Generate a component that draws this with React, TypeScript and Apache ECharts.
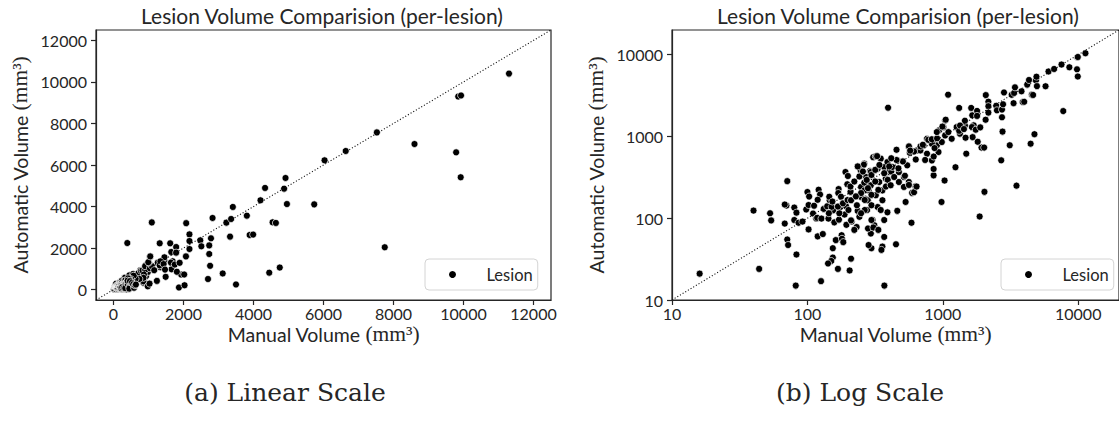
import React, { useEffect, useRef } from "react";
import * as echarts from "echarts";

const CHART_TITLE = "Lesion Volume Comparision (per-lesion)";
const CAPTIONS = ["(a) Linear Scale", "(b) Log Scale"];
const SERIES_NAME = "Lesion";
const LINEAR_TICKS = [0, 2000, 4000, 6000, 8000, 10000, 12000];
const LOG_TICKS = [10, 100, 1000, 10000];
const LINEAR_RANGE = [-500, 12500];
const LOG_RANGE = [10, 20000];

// [manual volume, automatic volume] in mm^3
const tinyLesions: [number, number][] = [
  [16, 21], [40, 124], [44, 24], [53, 115], [54, 94], [68, 86], [71, 284], [70, 143], [68, 147],
  [71, 55], [72, 47], [80, 135], [83, 117], [83, 36], [82, 15], [80, 95], [86, 88], [92, 91], [98, 128],
];

const smallLesions: [number, number][] = [
  [100, 209], [103, 184], [102, 145], [102, 73], [110, 114], [112, 142], [116, 99], [119, 60], [121, 223],
  [124, 195], [119, 168], [118, 101], [126, 17], [130, 64], [127, 99], [132, 130], [140, 140], [146, 166],
  [145, 183], [155, 125], [158, 89], [171, 96], [170, 227], [169, 203], [177, 183], [175, 137], [162, 54],
  [154, 43], [154, 33], [150, 30], [142, 28], [168, 24], [205, 23], [210, 32], [179, 62], [180, 56],
  [184, 51], [188, 111], [193, 140], [191, 367], [199, 328], [197, 260], [143, 99], [151, 138], [144, 115],
  [172, 115], [168, 139], [153, 160], [183, 152], [198, 167], [201, 126], [194, 83], [212, 91],
];

const mediumLesions: [number, number][] = [
  [208, 210], [210, 166], [210, 94], [235, 123], [231, 78], [242, 423], [263, 465], [249, 241], [263, 272],
  [276, 311], [290, 377], [283, 219], [268, 173], [276, 126], [297, 43], [283, 47], [306, 557], [294, 65],
  [358, 45], [369, 59], [330, 137], [303, 95], [312, 82], [358, 166], [390, 118], [320, 570], [348, 535],
  [261, 451], [247, 385], [271, 319], [294, 367], [330, 403], [369, 423], [401, 367], [379, 305], [339, 277],
  [294, 253], [264, 219], [249, 182], [279, 166], [320, 191], [358, 219], [390, 486], [352, 41], [370, 15],
  [394, 2243], [327, 574], [235, 430], [280, 75], [307, 77], [208, 244], [222, 281], [242, 324], [257, 372],
  [274, 294], [297, 338], [317, 390], [340, 448], [369, 355], [392, 294], [416, 372], [317, 281], [280, 233],
  [249, 203], [228, 185], [232, 144], [265, 167], [297, 193], [334, 222], [380, 244], [265, 126], [297, 144],
  [242, 104], [222, 72], [249, 115], [297, 95], [348, 126], [369, 95], [334, 72],
  [424, 423], [437, 319], [412, 253], [474, 277], [516, 241], [474, 367], [516, 319], [561, 277], [628, 245],
  [593, 204], [546, 443], [461, 509], [561, 741], [570, 630], [646, 675], [722, 777], [764, 615], [830, 509],
  [855, 334], [855, 400], [929, 644], [903, 777], [983, 853], [764, 936], [830, 813], [683, 675], [531, 158],
  [461, 123], [451, 48], [587, 88], [455, 687], [562, 755], [613, 655], [684, 755], [712, 790], [781, 908],
  [829, 924], [907, 949], [940, 1190], [869, 720], [856, 568], [740, 515], [631, 523], [574, 670], [507, 495],
  [455, 515], [416, 541], [402, 430], [470, 407], [525, 330], [562, 255], [613, 208], [640, 244], [903, 1130],
  [978, 158],
];

const largeLesions: [number, number][] = [
  [1030, 289], [1040, 1029], [1099, 1130], [1011, 1300], [1040, 1567], [1265, 1300], [1337, 1079],
  [1456, 1362], [1163, 936], [993, 1320], [1050, 1600], [1094, 3236], [1240, 420], [1320, 2230], [1490, 615],
  [1870, 105], [2030, 210], [1930, 730], [2020, 730], [2077, 3200], [2700, 510], [2760, 1145], [3120, 780],
  [3500, 250], [4450, 815], [4750, 1065], [7750, 2040], [1320, 1170], [1660, 980], [1810, 860], [1455, 1555],
  [1690, 1365], [1650, 1810], [1620, 2230], [1790, 2050], [1790, 1780], [2070, 1600], [2170, 2660],
  [2170, 2340], [2170, 1955], [2480, 2370], [2510, 2085], [2735, 1715], [2735, 2130], [2785, 2470],
  [2830, 3450], [3225, 3225], [3330, 2550], [3360, 3400], [3410, 3980], [3810, 3560], [3890, 2630],
  [3990, 2650], [4545, 3240], [4640, 3210], [4200, 4300], [4330, 4895], [4875, 4860], [4915, 5375],
  [4955, 4120], [5735, 4105], [6030, 6225], [6635, 6675], [7525, 7570], [8600, 7010], [9790, 6610],
  [9920, 5410], [9850, 9300], [9930, 9350], [11300, 10400], [1340, 1360], [1432, 1230], [1640, 1300],
  [1750, 1208], [1890, 1290], [1472, 964],
];

const lesions = [...tinyLesions, ...smallLesions, ...mediumLesions, ...largeLesions];

const SANS = "Lato";
const SERIF = "DejaVu Serif";
const MATH = "Liberation Serif";
const INK = "#262626";

function axisName(label: string) {
  return `{s|${label} }{m|(mm³)}`;
}

const nameStyle = {
  color: INK,
  fontFamily: SANS,
  fontSize: 19.5,
  lineHeight: 20,
  verticalAlign: "middle",
  rich: {
    s: { fontFamily: SANS, fontSize: 19.5, color: INK, lineHeight: 20 },
    m: { fontFamily: MATH, fontSize: 21.5, color: INK, lineHeight: 20 },
  },
};

function makeAxis(kind: "linear" | "log", dim: "x" | "y", gridIndex: number) {
  const isLog = kind === "log";
  const range = isLog ? LOG_RANGE : LINEAR_RANGE;
  const ticks = isLog ? LOG_TICKS : LINEAR_TICKS;
  return {
    type: isLog ? "log" : "value",
    logBase: 10,
    gridIndex,
    min: range[0],
    max: range[1],
    name: axisName(dim === "x" ? "Manual Volume" : "Automatic Volume"),
    nameLocation: "middle",
    nameGap: dim === "x" ? 34 : 76,
    nameMoveOverlap: false,
    nameTextStyle: nameStyle,
    axisLine: { show: true, onZero: false, lineStyle: { color: INK, width: 1.2 } },
    axisTick: {
      show: true,
      length: 5,
      lineStyle: { color: INK, width: 1.2 },
      customValues: ticks,
    },
    axisLabel: {
      color: INK,
      fontFamily: SANS,
      fontSize: 16,
      margin: dim === "x" ? 5 : 9,
      customValues: ticks,
      formatter: (v: number) => String(Math.round(v)),
    },
    splitLine: { show: false },
  };
}

function scatterSeries(i: number) {
  return {
    name: SERIES_NAME,
    type: "scatter",
    xAxisIndex: i,
    yAxisIndex: i,
    data: lesions,
    symbol: "circle",
    symbolSize: 7,
    itemStyle: { color: "#000", borderColor: "#fff", borderWidth: 0.7, opacity: 1 },
    z: 2,
  };
}

function diagonalSeries(i: number, range: number[]) {
  return {
    type: "line",
    xAxisIndex: i,
    yAxisIndex: i,
    data: [
      [range[0], range[0]],
      [range[1], range[1]],
    ],
    symbol: "none",
    silent: true,
    lineStyle: { color: "#111", width: 1.1, type: [1.1, 2] },
    z: 3,
  };
}

function legendAt(left: number) {
  return {
    left,
    top: 259,
    orient: "vertical",
    data: [{ name: SERIES_NAME, icon: "circle" }],
    itemWidth: 58,
    itemHeight: 9,
    padding: [7, 5, 7, 22],
    borderColor: "#d4d4d4",
    borderWidth: 1,
    borderRadius: 4,
    backgroundColor: "rgba(255,255,255,0.8)",
    selectedMode: false,
    textStyle: { color: INK, fontFamily: SANS, fontSize: 16.5 },
  };
}

function centeredText(text: string, x: number, y: number, font: string, size: number) {
  return {
    type: "text",
    x,
    y,
    silent: true,
    style: {
      text,
      fill: INK,
      font: `${size}px "${font}"`,
      align: "center",
      verticalAlign: "middle",
    },
  };
}

export default function App() {
  const ref = useRef<HTMLDivElement>(null);
  useEffect(() => {
    if (!ref.current) return;
    const chart = echarts.init(ref.current, undefined, { renderer: "svg" });
    const option = {
      animation: false,
      backgroundColor: "#ffffff",
      grid: [
        { left: 96, top: 30, width: 455, height: 270, show: true, borderColor: INK, borderWidth: 1.2, containLabel: false },
        { left: 672, top: 30, width: 452, height: 270, show: true, borderColor: INK, borderWidth: 1.2, containLabel: false },
      ],
      xAxis: [makeAxis("linear", "x", 0), makeAxis("log", "x", 1)],
      yAxis: [makeAxis("linear", "y", 0), makeAxis("log", "y", 1)],
      legend: [legendAt(425), legendAt(1001)],
      series: [
        scatterSeries(0),
        diagonalSeries(0, LINEAR_RANGE),
        scatterSeries(1),
        diagonalSeries(1, LOG_RANGE),
      ],
      graphic: [
        centeredText(CHART_TITLE, 322, 15, SANS, 21),
        centeredText(CHART_TITLE, 898, 15, SANS, 21),
        centeredText(CAPTIONS[0], 285, 392, SERIF, 25),
        centeredText(CAPTIONS[1], 860, 392, SERIF, 25),
      ],
    };
    chart.setOption(option as any);
    return () => chart.dispose();
  }, []);
  return (
    <div
      ref={ref}
      style={{ position: "fixed", left: 0, top: 0, width: 1119, height: 425, background: "#fff" }}
    />
  );
}
